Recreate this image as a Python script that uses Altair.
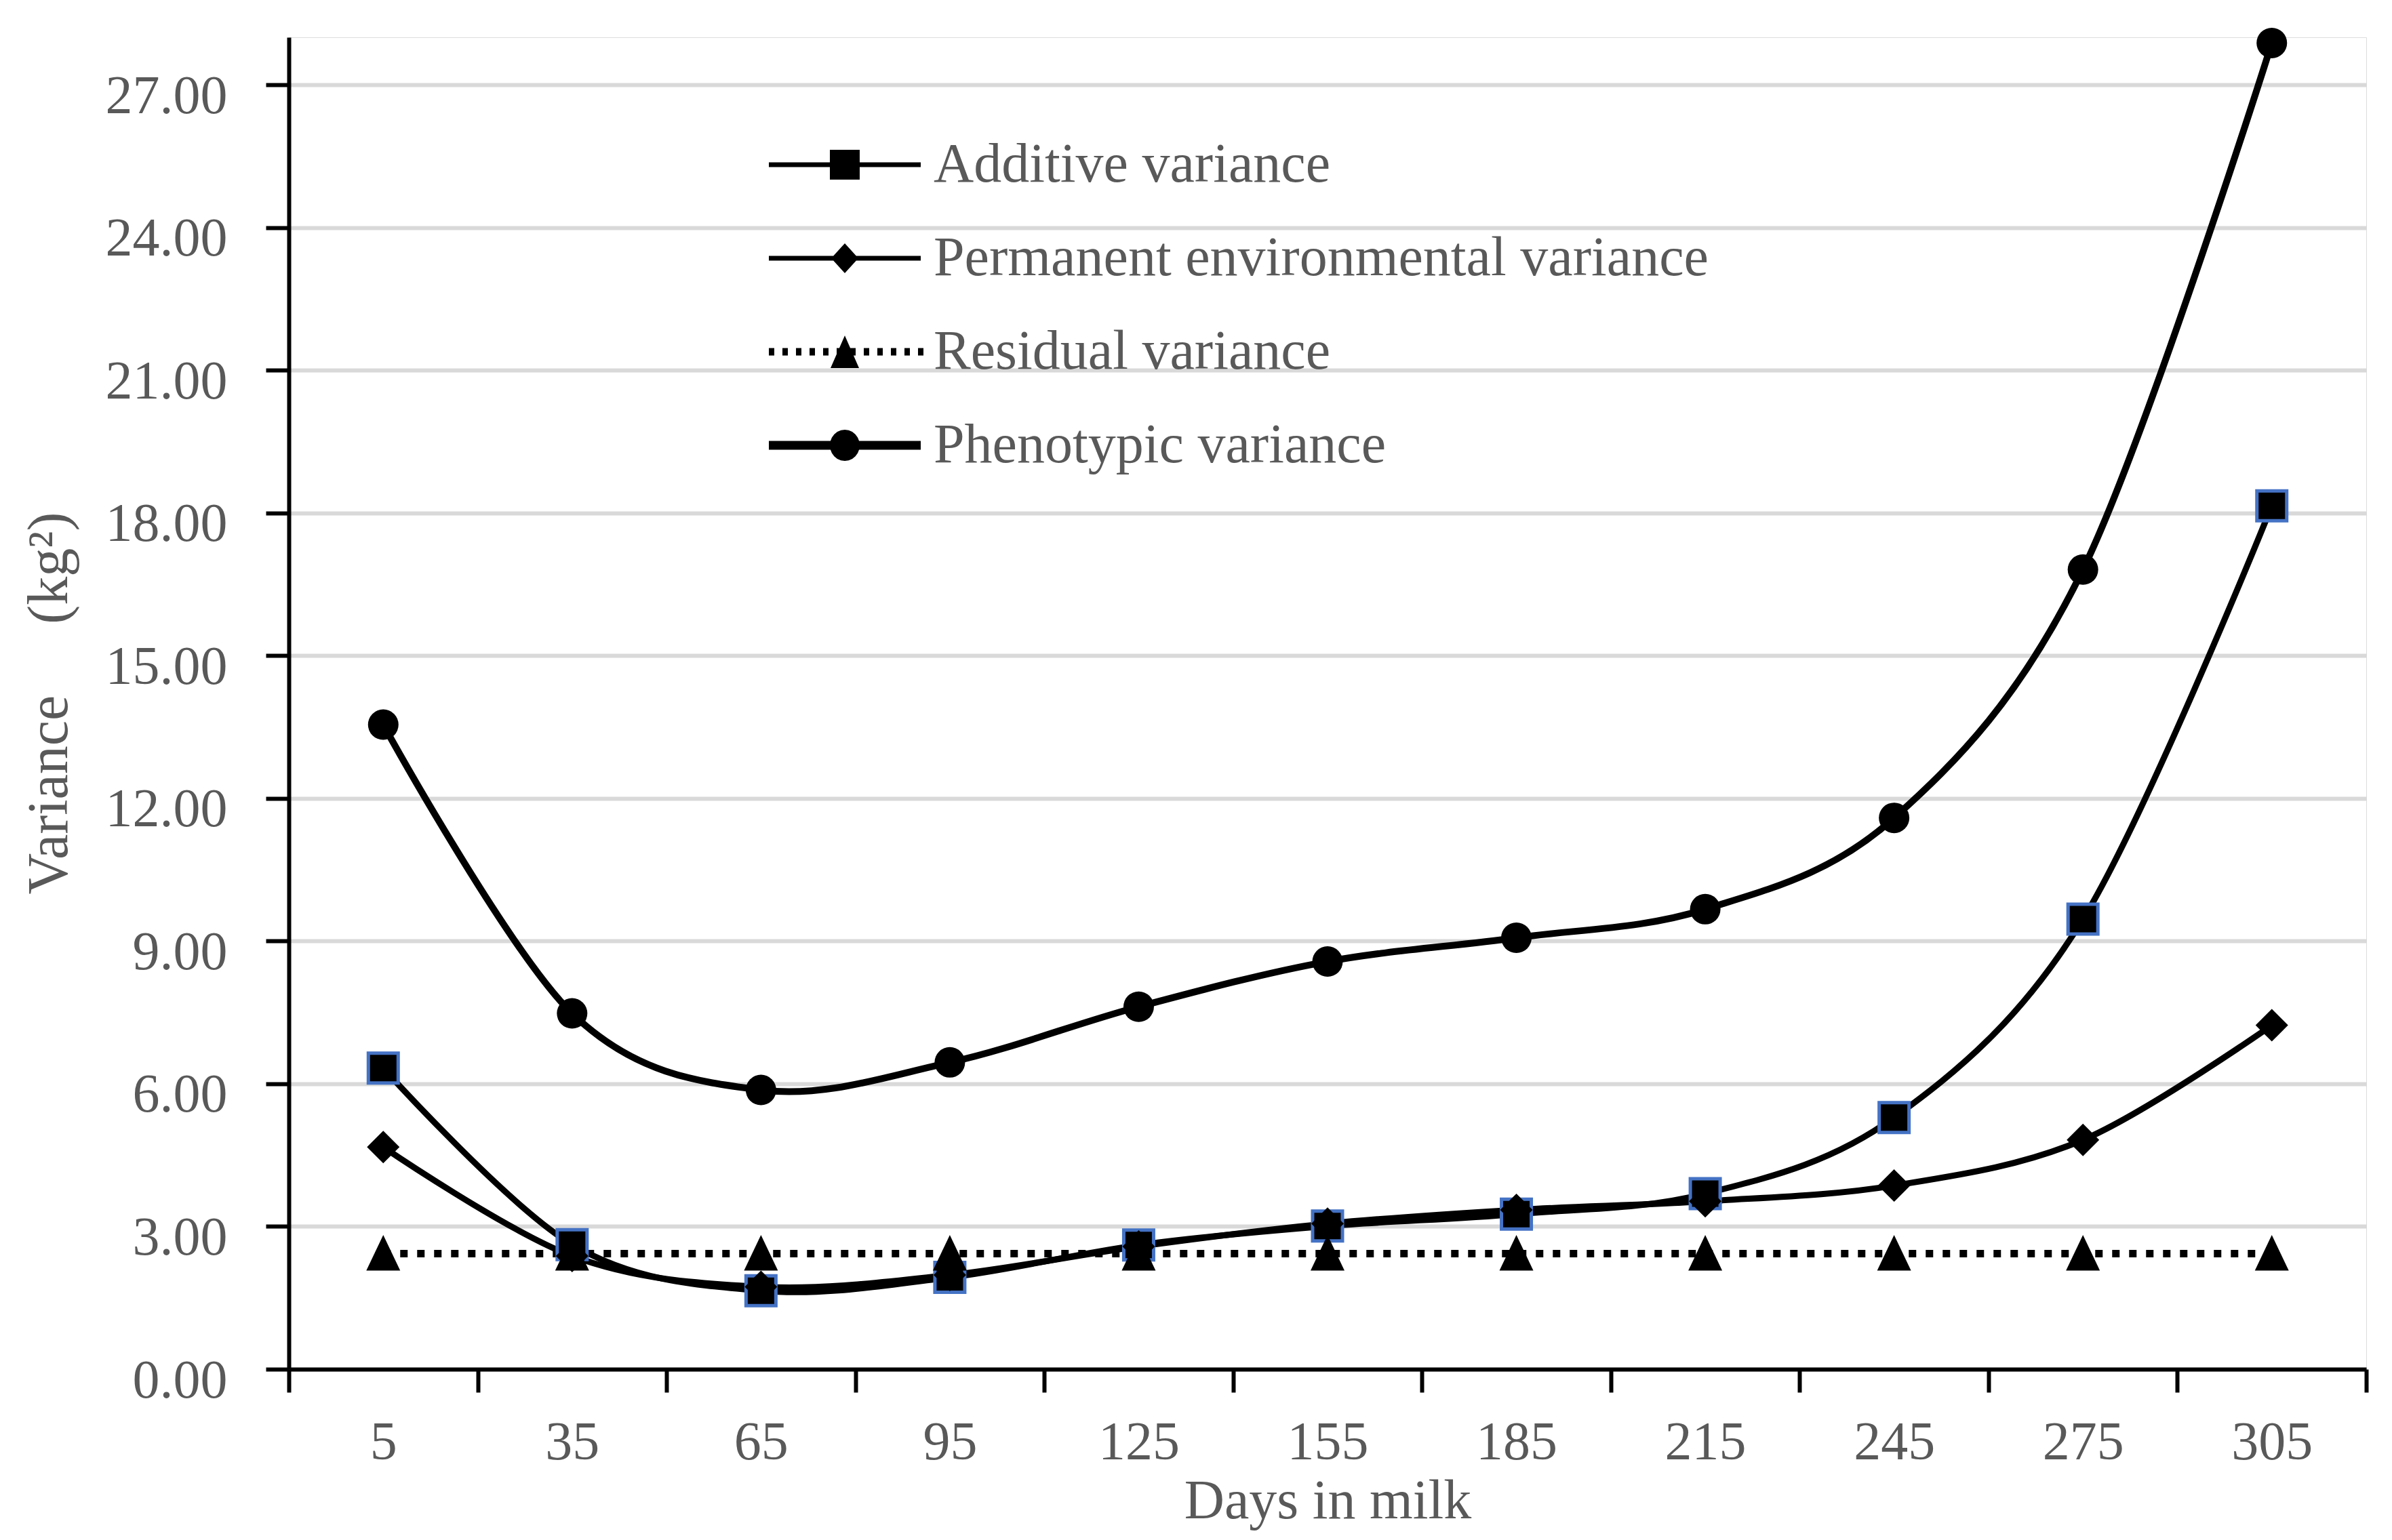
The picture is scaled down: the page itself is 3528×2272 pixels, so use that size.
import altair as alt
import pandas as pd
import math

# ---------------- data ----------------
days = [5, 35, 65, 95, 125, 155, 185, 215, 245, 275, 305]
additive = [6.33, 2.62, 1.65, 1.93, 2.61, 3.01, 3.26, 3.69, 5.29, 9.46, 18.15]
perm_env = [4.67, 2.38, 1.73, 1.98, 2.58, 3.06, 3.35, 3.53, 3.86, 4.82, 7.23]
residual = [2.43, 2.43, 2.43, 2.43, 2.43, 2.43, 2.43, 2.43, 2.43, 2.43, 2.43]
phenotypic = [13.55, 7.48, 5.87, 6.45, 7.62, 8.57, 9.07, 9.67, 11.59, 16.81, 27.88]

series_names = [
    "Additive variance",
    "Permanent environmental variance",
    "Residual variance",
    "Phenotypic variance",
]
y_ticks = [0, 3, 6, 9, 12, 15, 18, 21, 24, 27]
day_labels = [str(d) for d in days]

rows = []
for name, vals in zip(series_names, [additive, perm_env, residual, phenotypic]):
    for d, v in zip(day_labels, vals):
        rows.append({"day": d, "value": v, "series": name})
df = pd.DataFrame(rows)

# ---------------- styling ----------------
FONT = "Liberation Serif"
GREY = "#595959"
LABEL_SIZE = 80
TITLE_SIZE = 82

PLOT_W = 3064
PLOT_H = 1965

# legend glyphs (line + marker) as custom symbol paths, unit = sqrt(size)/2
SYM = 82.0
U = SYM / 2.0


def rect(x0, x1, y0, y1):
    return f"M{x0/U:.3f},{y0/U:.3f}H{x1/U:.3f}V{y1/U:.3f}H{x0/U:.3f}Z"


LX0, LX1, MC = -41, 183, 71
thin_line = rect(LX0, LX1, -3.5, 3.5)
thick_line = rect(LX0, LX1, -6.5, 6.5)
dotted = "".join(rect(x, x + 8, -5.5, 5.5) for x in range(LX0, LX1, 20))
sq_glyph = rect(MC - 22, MC + 22, -22, 22)
dia_glyph = f"M{MC/U:.3f},{-22/U:.3f}L{(MC+20)/U:.3f},0L{MC/U:.3f},{22/U:.3f}L{(MC-20)/U:.3f},0Z"
tri_glyph = f"M{MC/U:.3f},{-24/U:.3f}L{(MC+21)/U:.3f},{24/U:.3f}L{(MC-21)/U:.3f},{24/U:.3f}Z"
pts = []
for k in range(24):
    a = 2 * math.pi * k / 24
    pts.append(((MC + 22 * math.cos(a)) / U, (23 * math.sin(a)) / U))
circ_glyph = "M" + "L".join(f"{px:.3f},{py:.3f}" for px, py in pts) + "Z"

legend_paths = [
    thin_line + sq_glyph,
    thin_line + dia_glyph,
    dotted + tri_glyph,
    thick_line + circ_glyph,
]

x_enc = alt.X(
    "day:N",
    sort=day_labels,
    scale=alt.Scale(type="band", domain=day_labels, paddingInner=0, paddingOuter=0),
    axis=alt.Axis(
        title="Days in milk",
        tickBand="extent",
        grid=False,
        labelAngle=0,
        labelFont=FONT,
        labelFontSize=LABEL_SIZE,
        labelColor=GREY,
        labelBaseline="alphabetic",
        labelPadding=98,
        labelLimit=1000,
        tickSize=34,
        tickWidth=6,
        tickColor="black",
        domainColor="black",
        domainWidth=6,
        titleFont=FONT,
        titleFontSize=TITLE_SIZE,
        titleFontWeight="normal",
        titleColor=GREY,
        titleBaseline="alphabetic",
        titleAlign="center",
        titleX=PLOT_W / 2,
        titleY=219,
    ),
)

y_enc = alt.Y(
    "value:Q",
    scale=alt.Scale(domain=[0, 28], nice=False, zero=True),
    axis=alt.Axis(
        title="Variance\u00a0\u00a0\u00a0\u00a0\u00a0(kg\u00b2)",
        values=y_ticks,
        format=".2f",
        labelFont=FONT,
        labelFontSize=LABEL_SIZE,
        labelColor=GREY,
        labelBaseline="alphabetic",
        labelOffset=41,
        labelPadding=57,
        labelLimit=1000,
        tickSize=34,
        tickWidth=6,
        tickColor="black",
        domainColor="black",
        domainWidth=6,
        grid=True,
        gridColor="#D9D9D9",
        gridWidth=6,
        titleFont=FONT,
        titleFontSize=84,
        titleFontWeight="normal",
        titleColor=GREY,
        titleBaseline="alphabetic",
        titleAlign="center",
        titleAngle=270,
        titleX=-328,
        titleY=982,
        titleLimit=3000,
    ),
)

base = alt.Chart(df).encode(x=x_enc, y=y_enc)


def sel(name):
    return base.transform_filter(alt.datum.series == name)


line_add = sel(series_names[0]).mark_line(color="black", strokeWidth=9, interpolate="cardinal")
line_pe = sel(series_names[1]).mark_line(color="black", strokeWidth=9, interpolate="cardinal")
line_res = sel(series_names[2]).mark_line(
    color="black", strokeWidth=11, strokeDash=[11, 14], strokeCap="butt", interpolate="linear"
)
line_phe = sel(series_names[3]).mark_line(color="black", strokeWidth=10, interpolate="cardinal")

pt_add = sel(series_names[0]).mark_point(
    shape="square", filled=True, fill="black", stroke="#4472C4", strokeWidth=5, size=1936, opacity=1
)
pt_pe = sel(series_names[1]).mark_point(
    shape="diamond", filled=True, fill="black", strokeWidth=0, size=2304, opacity=1
)
pt_res = sel(series_names[2]).mark_point(
    shape="M0,-1.1L1,1L-1,1Z", filled=True, fill="black", strokeWidth=0, size=2500, opacity=1
)
pt_phe = sel(series_names[3]).mark_point(
    shape="circle", filled=True, fill="black", strokeWidth=0, size=2025, opacity=1
)

legend_layer = base.mark_point(filled=True, color="black", opacity=0).encode(
    shape=alt.Shape(
        "series:N",
        sort=series_names,
        scale=alt.Scale(domain=series_names, range=legend_paths),
        legend=alt.Legend(
            title=None,
            orient="none",
            legendX=708,
            legendY=147,
            padding=0,
            symbolSize=SYM * SYM,
            symbolOpacity=1,
            symbolFillColor="black",
            symbolStrokeColor="black",
            symbolStrokeWidth=0,
            rowPadding=56,
            labelOffset=161,
            labelFont=FONT,
            labelFontSize=82,
            labelColor=GREY,
            labelLimit=3000,
        ),
    )
)

chart = (
    alt.layer(
        line_add, line_pe, line_res, line_phe,
        pt_add, pt_pe, pt_res, pt_phe,
        legend_layer,
    )
    .properties(
        width=PLOT_W,
        height=PLOT_H,
        autosize=alt.AutoSizeParams(type="none"),
        padding={"left": 418, "top": 47, "right": 30, "bottom": 245},
    )
    .configure_view(stroke="black", strokeWidth=6)
    .configure(background="white")
)

chart.save("out.html", embed_options={"renderer": "svg", "actions": False})
